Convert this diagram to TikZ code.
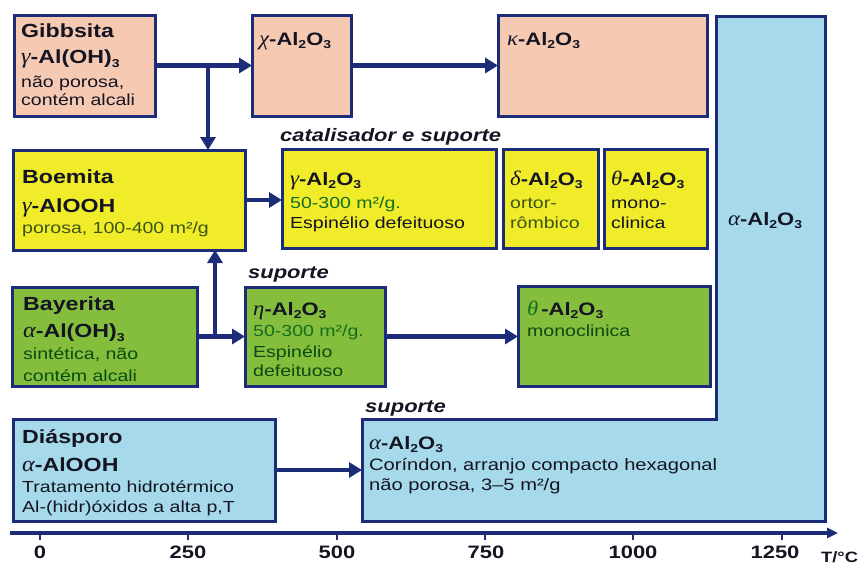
\documentclass[tikz,border=0pt]{standalone}
\usepackage{fontspec}
\setmainfont{Liberation Sans}[FakeStretch=1.22]
\newfontfamily\grk{Liberation Serif}[FakeStretch=1.1,Scale=1.15]
\usetikzlibrary{arrows.meta,calc}
\definecolor{peach}{RGB}{246,202,178}
\definecolor{yel}{RGB}{240,236,42}
\definecolor{grn}{RGB}{132,190,60}
\definecolor{lblue}{RGB}{166,218,234}
\definecolor{navy}{RGB}{28,44,120}
\definecolor{tgreen}{RGB}{20,110,30}
\definecolor{dgreen}{RGB}{10,75,20}
\definecolor{olive}{RGB}{60,85,20}
\definecolor{ink}{RGB}{20,20,35}
\newcommand\gk[1]{{\grk\itshape\mdseries #1}}
\newcommand\sbs[1]{\raisebox{-0.4ex}{\fontsize{11.5}{11.5}\selectfont #1}}
\newcommand\fAl{-Al\sbs{2}O\sbs{3}}
\newcommand\ttl{\fontsize{19}{19}\selectfont\bfseries}
\newcommand\fml{\fontsize{18}{18}\selectfont\bfseries}
\newcommand\bdy{\fontsize{16}{16}\selectfont}
\newcommand\lbl{\fontsize{18}{18}\selectfont\bfseries\itshape}
\begin{document}
\begin{tikzpicture}[x=1pt,y=-1pt,
  box/.style={draw=navy, line width=3pt, anchor=north west, inner sep=0pt, outer sep=0pt},
  arr/.style={draw=navy, line width=4.5pt, -{Triangle[length=13pt,width=15pt]}},
  txt/.style={anchor=base west, inner sep=0pt, text=ink},
  axl/.style={anchor=base, inner sep=0pt, text=ink, font=\fontsize{18}{18}\selectfont\bfseries},
  tick/.style={draw=navy, line width=2.8pt}]
\useasboundingbox[fill=white] (0,0) rectangle (866,565);

% big alpha L-shape
\draw[fill=lblue, draw=navy, line width=3pt, line join=miter]
  (716,16) -- (825,16) -- (825,521) -- (362,521) -- (362,419) -- (716,419) -- cycle;
\coordinate (aL) at (362,470);

% boxes
\node[box, fill=peach, minimum width=141pt, minimum height=101pt] (gib) at (14,15) {};
\node[box, fill=peach, minimum width=99pt, minimum height=101pt] (chi) at (252,15) {};
\node[box, fill=peach, minimum width=209pt, minimum height=101pt] (kap) at (498,15) {};
\node[box, fill=yel, minimum width=232pt, minimum height=100pt] (boe) at (13,150) {};
\node[box, fill=yel, minimum width=214pt, minimum height=99pt] (gam) at (282,149) {};
\node[box, fill=yel, minimum width=95pt, minimum height=99pt] (del) at (503,149) {};
\node[box, fill=yel, minimum width=103pt, minimum height=99pt] (the) at (604,149) {};
\node[box, fill=grn, minimum width=185pt, minimum height=99pt] (bay) at (12,287) {};
\node[box, fill=grn, minimum width=140pt, minimum height=99pt] (eta) at (245,287) {};
\node[box, fill=grn, minimum width=192pt, minimum height=100pt] (thg) at (518,286) {};
\node[box, fill=lblue, minimum width=262pt, minimum height=102pt] (dia) at (13,419) {};

% arrows
\coordinate (j1) at (208,65.5);
\coordinate (j2) at (215,336.5);
\draw[arr] (gib.east) -- (chi.west);
\draw[arr] (chi.east) -- (kap.west);
\draw[arr] (j1) -- (j1 |- boe.north);
\draw[arr] (boe.east) -- (boe.east -| gam.west);
\draw[arr] (bay.east) -- (eta.west);
\draw[arr] (j2) -- (j2 |- boe.south);
\draw[arr] (eta.east) -- (eta.east -| thg.west);
\draw[arr] (dia.east) -- (dia.east -| aL);

% texts: Gibbsita row
\node[txt, font=\ttl] (gib1) at (21,37) {Gibbsita};
\node[txt, font=\ttl] (gib2) at (21,63) {\gk{γ}-Al(OH)\sbs{3}};
\node[txt, font=\bdy] (gib3) at (21,87) {não porosa,};
\node[txt, font=\bdy] (gib4) at (21,105) {contém alcali};
\node[txt, font=\fml] (chi1) at (259,45) {\gk{χ}\fAl};
\node[txt, font=\fml] (kap1) at (507,45) {\gk{κ}\fAl};

% Boemita row
\node[txt, font=\lbl] (cat) at (280,141) {catalisador e suporte};
\node[txt, font=\ttl] (boe1) at (22,183) {Boemita};
\node[txt, font=\ttl] (boe2) at (22,212) {\gk{γ}-AlOOH};
\node[txt, font=\bdy, text=olive] (boe3) at (22,233) {porosa, 100-400 m²/g};
\node[txt, font=\fml] (gam1) at (290,185) {\gk{γ}\fAl};
\node[txt, font=\bdy, text=tgreen] (gam2) at (290,208) {50-300 m²/g.};
\node[txt, font=\bdy] (gam3) at (290,228) {Espinélio defeituoso};
\node[txt, font=\fml] (del1) at (510,185) {\gk{δ}\fAl};
\node[txt, font=\bdy, text=olive] (del2) at (510,208) {ortor-};
\node[txt, font=\bdy, text=olive] (del3) at (510,228) {rômbico};
\node[txt, font=\fml] (the1) at (611,185) {\gk{θ}\fAl};
\node[txt, font=\bdy] (the2) at (611,208) {mono-};
\node[txt, font=\bdy] (the3) at (611,228) {clinica};

% Bayerita row
\node[txt, font=\lbl] (sup1) at (248,278) {suporte};
\node[txt, font=\ttl] (bay1) at (23,310) {Bayerita};
\node[txt, font=\ttl] (bay2) at (23,337) {\gk{α}-Al(OH)\sbs{3}};
\node[txt, font=\bdy, text=dgreen] (bay3) at (23,359) {sintética, não};
\node[txt, font=\bdy, text=dgreen] (bay4) at (23,381) {contém alcali};
\node[txt, font=\fml] (eta1) at (253,315) {\gk{η}\fAl};
\node[txt, font=\bdy, text=tgreen] (eta2) at (253,336) {50-300 m²/g.};
\node[txt, font=\bdy, text=dgreen] (eta3) at (253,357) {Espinélio};
\node[txt, font=\bdy, text=dgreen] (eta4) at (253,376) {defeituoso};
\node[txt, font=\fml] (thg1) at (527,315) {{\color{tgreen}\gk{θ}}\,\fAl};
\node[txt, font=\bdy, text=dgreen] (thg2) at (527,336) {monoclinica};

% Diasporo row
\node[txt, font=\lbl] (sup2) at (365,412) {suporte};
\node[txt, font=\ttl] (dia1) at (22,443) {Diásporo};
\node[txt, font=\ttl] (dia2) at (22,471) {\gk{α}-AlOOH};
\node[txt, font=\bdy] (dia3) at (22,492) {Tratamento hidrotérmico};
\node[txt, font=\bdy] (dia4) at (22,512) {Al-(hidr)óxidos a alta p,T};
\node[txt, font=\fml] (abig) at (728,225) {\gk{α}\fAl};
\node[txt, font=\fml] (alo1) at (369,449) {\gk{α}\fAl};
\node[txt, font=\fontsize{16.5}{16.5}\selectfont] (alo2) at (369,470) {Coríndon, arranjo compacto hexagonal};
\node[txt, font=\fontsize{16.5}{16.5}\selectfont] (alo3) at (369,490) {não porosa, 3–5 m²/g};

% axis
\coordinate (ax0) at (10,533);
\coordinate (ax1) at (838,533);
\draw[draw=navy, line width=3.2pt, -{Triangle[length=11pt,width=10pt]}] (ax0) -- (ax1);
\foreach \x in {40,188,337,485,633,782} \draw[tick] (\x,531) -- (\x,540);
\node[axl] (l0) at (40,558) {0};
\node[axl] (l1) at (188,558) {250};
\node[axl] (l2) at (337,558) {500};
\node[axl] (l3) at (486,558) {750};
\node[axl] (l4) at (633,558) {1000};
\node[axl] (l5) at (775,558) {1250};
\node[txt, font=\fontsize{15}{15}\selectfont\bfseries] (tc) at (821,562) {T/°C};
\end{tikzpicture}
\end{document}
